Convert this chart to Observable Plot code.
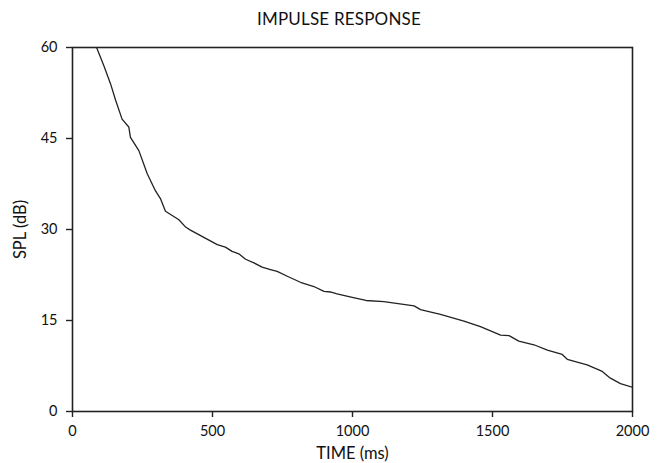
<!DOCTYPE html>
<html>
<head>
<meta charset="utf-8">
<script src="https://cdn.jsdelivr.net/npm/d3@7"></script>
<script src="https://cdn.jsdelivr.net/npm/@observablehq/plot@0.6"></script>
<style>
  html, body { margin: 0; padding: 0; background: #fff; }
  #wrap { width: 660px; height: 463px; position: relative; font-family: Lato, "Open Sans", sans-serif; color: #111; }
  #title { position: absolute; left: 0; top: 0; width: 660px; height: 38px; text-align: center; font-size: 17px; line-height: 17px; padding-left: 18px; box-sizing: border-box; padding-top: 10px; letter-spacing: 0.2px; }
  #chart { position: absolute; left: 0; top: 38px; }
</style>
</head>
<body>
<div id="wrap">
  <div id="title">IMPULSE RESPONSE</div>
  <div id="chart"></div>
</div>
<script>
const timeMs = [86,112,136,154,177,201,207,237,267,296,314,332,380,404,421,469,517,546,570,594,618,648,677,707,731,767,814,862,898,921,945,999,1048,1112,1220,1243,1314,1398,1457,1529,1559,1594,1648,1696,1749,1767,1838,1892,1921,1957,2000];
const splDb = [60,57.0,54.0,51.3,48.2,46.9,45.2,43.0,39.2,36.4,35.1,33.0,31.6,30.4,29.9,28.7,27.5,27.1,26.4,26.0,25.1,24.5,23.8,23.4,23.1,22.3,21.3,20.6,19.8,19.7,19.4,18.8,18.3,18.1,17.4,16.8,16.0,14.9,14.0,12.6,12.5,11.6,11.0,10.1,9.4,8.6,7.7,6.6,5.5,4.6,4.0];
const xTicks = [0, 500, 1000, 1500, 2000];
const yTicks = [0, 15, 30, 45, 60];

const data = timeMs.map((t, i) => ({t, spl: splDb[i]}));

const chart = Plot.plot({
  width: 660,
  height: 425,
  marginLeft: 72,
  marginRight: 28,
  marginTop: 9,
  marginBottom: 52,
  style: {fontFamily: "Lato, 'Open Sans', sans-serif", fontSize: "14.5px", color: "#111", background: "#fff"},
  x: {domain: [0, 2000], ticks: xTicks, tickFormat: d => String(d), tickSize: 6, tickPadding: 8, label: "TIME (ms)", labelAnchor: "center", labelOffset: 47, labelArrow: "none"},
  y: {domain: [0, 60], ticks: yTicks, tickFormat: d => String(d), tickSize: 6, tickPadding: 9, label: "SPL (dB)", labelAnchor: "center", labelOffset: 58, labelArrow: "none"},
  marks: [
    Plot.frame({stroke: "#222", strokeWidth: 1.6}),
    Plot.line(data, {x: "t", y: "spl", stroke: "#222", strokeWidth: 1.3, clip: true})
  ]
});
document.getElementById("chart").appendChild(chart);
d3.select(chart).selectAll("[aria-label='x-axis label'] text, [aria-label='y-axis label'] text").style("font-size", "16.5px");
d3.select(chart).selectAll("[aria-label='x-axis tick'] path, [aria-label='y-axis tick'] path").attr("stroke", "#222").attr("stroke-width", 1.4);
</script>
</body>
</html>
